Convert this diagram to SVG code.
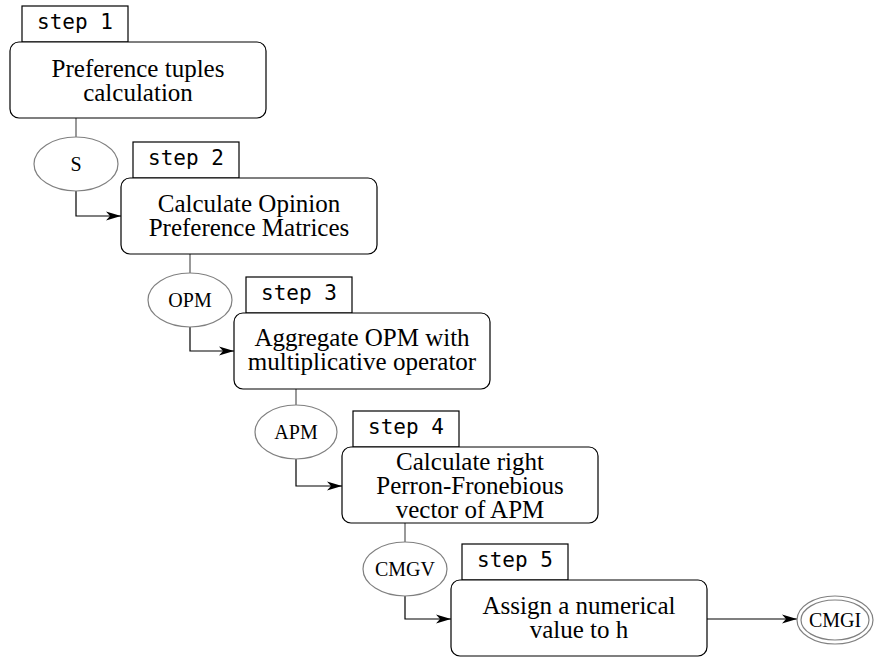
<svg xmlns="http://www.w3.org/2000/svg" width="875" height="657" viewBox="0 0 875 657">
<defs>
<style>
.box{fill:#fff;stroke:#000;stroke-width:1.2}
.tag{fill:#fff;stroke:#000;stroke-width:1.2}
.ell{fill:#fff;stroke:#808080;stroke-width:1.2}
.t{font-family:"Liberation Serif","Times New Roman",serif;font-size:25px;fill:#000;text-anchor:middle}
.e{font-family:"Liberation Serif","Times New Roman",serif;font-size:20px;fill:#000;text-anchor:middle}
.m{font-family:"DejaVu Sans Mono",monospace;font-size:21px;fill:#000;text-anchor:middle}
.ln{fill:none;stroke:#555;stroke-width:1.2}
.ar{fill:none;stroke:#000;stroke-width:1.2}
</style>
<marker id="arr" markerUnits="userSpaceOnUse" markerWidth="16" markerHeight="12" viewBox="0 0 16 12" refX="15" refY="6" orient="auto">
<path d="M0,1.5 L15,6 L0,10.5 L4,6 Z" fill="#000"/>
</marker>
</defs>
<g id="connectors">
<path class="ln" d="M76,118 V137"/>
<path class="ar" d="M76,191 V216 H121" marker-end="url(#arr)"/>
<path class="ln" d="M190,254 V273"/>
<path class="ar" d="M190,327 V351 H234" marker-end="url(#arr)"/>
<path class="ln" d="M296,389 V405"/>
<path class="ar" d="M296,459 V486 H342" marker-end="url(#arr)"/>
<path class="ln" d="M405,523 V542"/>
<path class="ar" d="M405,596 V619 H451" marker-end="url(#arr)"/>
<path class="ar" d="M707,619 H797" marker-end="url(#arr)"/>
</g>
<g id="step1">
<rect class="tag" x="22" y="6" width="106" height="36"/>
<text class="m" x="75" y="29">step 1</text>
<rect class="box" x="10" y="42" width="256" height="76" rx="9"/>
<text class="t" x="138" y="77">Preference tuples</text>
<text class="t" x="138" y="101">calculation</text>
</g>
<g id="S">
<ellipse class="ell" cx="76" cy="164" rx="42" ry="27"/>
<text class="e" x="76" y="171">S</text>
</g>
<g id="step2">
<rect class="tag" x="133" y="142" width="106" height="36"/>
<text class="m" x="186" y="165">step 2</text>
<rect class="box" x="121" y="178" width="256" height="76" rx="9"/>
<text class="t" x="249" y="212">Calculate Opinion</text>
<text class="t" x="249" y="236">Preference Matrices</text>
</g>
<g id="OPM">
<ellipse class="ell" cx="190" cy="300" rx="42" ry="27"/>
<text class="e" x="190" y="307">OPM</text>
</g>
<g id="step3">
<rect class="tag" x="246" y="277" width="106" height="36"/>
<text class="m" x="299" y="300">step 3</text>
<rect class="box" x="234" y="313" width="256" height="76" rx="9"/>
<text class="t" x="362" y="346">Aggregate OPM with</text>
<text class="t" x="362" y="370">multiplicative operator</text>
</g>
<g id="APM">
<ellipse class="ell" cx="296" cy="432" rx="41" ry="27"/>
<text class="e" x="296" y="439">APM</text>
</g>
<g id="step4">
<rect class="tag" x="353" y="411" width="106" height="36"/>
<text class="m" x="406" y="434">step 4</text>
<rect class="box" x="342" y="447" width="256" height="76" rx="9"/>
<text class="t" x="470" y="470">Calculate right</text>
<text class="t" x="470" y="494">Perron-Fronebious</text>
<text class="t" x="470" y="518">vector of APM</text>
</g>
<g id="CMGV">
<ellipse class="ell" cx="405" cy="569" rx="42" ry="27"/>
<text class="e" x="405" y="576">CMGV</text>
</g>
<g id="step5">
<rect class="tag" x="462" y="544" width="106" height="36"/>
<text class="m" x="515" y="567">step 5</text>
<rect class="box" x="451" y="580" width="256" height="76" rx="9"/>
<text class="t" x="579" y="614">Assign a numerical</text>
<text class="t" x="579" y="638">value to h</text>
</g>
<g id="CMGI">
<ellipse class="ell" cx="835" cy="620" rx="38" ry="24"/>
<ellipse class="ell" cx="835" cy="620" rx="34" ry="20"/>
<text class="e" x="835" y="627">CMGI</text>
</g>
</svg>
